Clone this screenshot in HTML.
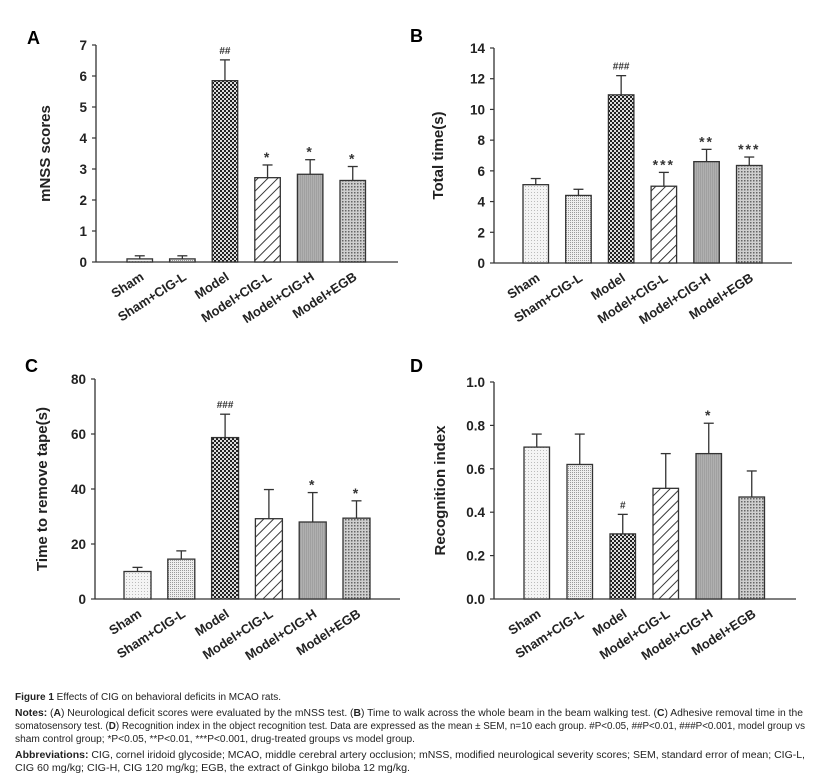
<!DOCTYPE html>
<html><head><meta charset="utf-8"><style>
body{margin:0;background:#fff}
svg{display:block;font-family:"Liberation Sans",Arial,sans-serif}
</style></head><body>
<svg id="fig" width="817" height="783" viewBox="0 0 817 783" xmlns="http://www.w3.org/2000/svg">
<defs>
<pattern id="pSham" width="3" height="3" patternUnits="userSpaceOnUse"><rect width="3" height="3" fill="#f4f4f4"/><rect width="1" height="1" fill="#bbb"/></pattern>
<pattern id="pShamL" width="2" height="2" patternUnits="userSpaceOnUse"><rect width="2" height="2" fill="#eee"/><rect width="1" height="1" fill="#999"/></pattern>
<pattern id="pModel" width="4" height="4" patternUnits="userSpaceOnUse"><rect width="4" height="4" fill="#222"/><rect width="2" height="2" fill="#ddd"/><rect x="2" y="2" width="2" height="2" fill="#ddd"/></pattern>
<pattern id="pCigL" width="7" height="7" patternUnits="userSpaceOnUse" patternTransform="rotate(45)"><rect width="7" height="7" fill="#fff"/><line x1="0" y1="0" x2="0" y2="7" stroke="#222" stroke-width="1.8"/></pattern>
<pattern id="pCigH" width="2" height="2" patternUnits="userSpaceOnUse"><rect width="2" height="2" fill="#b0b0b0"/><rect width="1" height="2" fill="#a0a0a0"/></pattern>
<pattern id="pEgb" width="3" height="3" patternUnits="userSpaceOnUse"><rect width="3" height="3" fill="#cfcfcf"/><rect width="1.5" height="1.5" fill="#666"/></pattern>
</defs>
<g id="charts"></g>
<g font-size="10" fill="#222">
<text x="15" y="700"><tspan font-weight="bold">Figure 1</tspan> Effects of CIG on behavioral deficits in MCAO rats.</text>
<text x="15" y="716" textLength="788" lengthAdjust="spacingAndGlyphs"><tspan font-weight="bold">Notes:</tspan> (<tspan font-weight="bold">A</tspan>) Neurological deficit scores were evaluated by the mNSS test. (<tspan font-weight="bold">B</tspan>) Time to walk across the whole beam in the beam walking test. (<tspan font-weight="bold">C</tspan>) Adhesive removal time in the</text>
<text x="15" y="729" textLength="790" lengthAdjust="spacingAndGlyphs">somatosensory test. (<tspan font-weight="bold">D</tspan>) Recognition index in the object recognition test. Data are expressed as the mean ± SEM, n=10 each group. #P&lt;0.05, ##P&lt;0.01, ###P&lt;0.001, model group vs</text>
<text x="15" y="742" textLength="400" lengthAdjust="spacingAndGlyphs">sham control group; *P&lt;0.05, **P&lt;0.01, ***P&lt;0.001, drug-treated groups vs model group.</text>
<text x="15" y="758" textLength="790" lengthAdjust="spacingAndGlyphs"><tspan font-weight="bold">Abbreviations:</tspan> CIG, cornel iridoid glycoside; MCAO, middle cerebral artery occlusion; mNSS, modified neurological severity scores; SEM, standard error of mean; CIG-L,</text>
<text x="15" y="771" textLength="395" lengthAdjust="spacingAndGlyphs">CIG 60 mg/kg; CIG-H, CIG 120 mg/kg; EGB, the extract of Ginkgo biloba 12 mg/kg.</text>
</g>
</svg>
<script>
const categories = ["Sham","Sham+CIG-L","Model","Model+CIG-L","Model+CIG-H","Model+EGB"];
const valuesA = [0.1,0.1,5.85,2.72,2.83,2.63];
const errTopA = [0.2,0.2,6.52,3.13,3.3,3.08];
const marksA = ["","","##","*","*","*"];
const ticksA = [0,1,2,3,4,5,6,7];
const valuesB = [5.1,4.4,10.95,5.0,6.6,6.35];
const errTopB = [5.5,4.8,12.2,5.9,7.4,6.9];
const marksB = ["","","###","***","**","***"];
const ticksB = [0,2,4,6,8,10,12,14];
const valuesC = [10,14.5,58.7,29.2,28,29.4];
const errTopC = [11.5,17.5,67.2,39.8,38.7,35.7];
const marksC = ["","","###","","*","*"];
const ticksC = [0,20,40,60,80];
const valuesD = [0.70,0.62,0.30,0.51,0.67,0.47];
const errTopD = [0.76,0.76,0.39,0.67,0.81,0.59];
const marksD = ["","","#","","*",""];
const ticksD = ["0.0","0.2","0.4","0.6","0.8","1.0"];

const fills = ["url(#pSham)","url(#pShamL)","url(#pModel)","url(#pCigL)","url(#pCigH)","url(#pEgb)"];
const NS = "http://www.w3.org/2000/svg";
const root = document.getElementById("charts");
function mk(tag, attrs, parent){const e=document.createElementNS(NS,tag);for(const k in attrs)e.setAttribute(k,attrs[k]);(parent||root).appendChild(e);return e;}

function panel(id, letter, lx, ly, ax, y0, yTop, xEnd, firstBar, step, bw, ticks, vals, errs, marks, title, titleX){
  const g = mk("g",{});
  
  
  const tNums = ticks.map(Number);
  const maxV = tNums[tNums.length-1];
  const y = v => y0 - (v/maxV)*(y0-yTop);
  const xb = i => firstBar + i*step;
  const L = mk("text",{x:lx,y:ly,"font-size":18,"font-weight":"bold"},g); L.textContent=letter;
  
  
  const ya = mk("line",{x1:ax,y1:y0,x2:ax,y2:yTop,stroke:"#333","stroke-width":1.3},g);
  
  
  const xa = mk("line",{x1:ax,y1:y0,x2:xEnd,y2:y0,stroke:"#333","stroke-width":1.3},g);
  
  
  ticks.forEach((t,i)=>{
    const yy=y(tNums[i]);
    mk("line",{x1:ax-4,y1:yy,x2:ax,y2:yy,stroke:"#333","stroke-width":1.2},g);
    const tl=mk("text",{x:ax-9,y:yy+5,"font-size":13.5,"font-weight":"bold","text-anchor":"end",fill:"#222"},g);
    tl.textContent=t;
    
    
  });
  const yt=mk("text",{x:titleX,y:(y0+yTop)/2,"font-size":15,"font-weight":"bold","text-anchor":"middle",transform:`rotate(-90 ${titleX} ${(y0+yTop)/2})`,fill:"#222"},g);
  yt.textContent=title;
  
  
  vals.forEach((v,i)=>{
    const x=xb(i), cx=x+bw/2, top=y(v), et=y(errs[i]);
    const el=mk("line",{x1:cx,y1:top,x2:cx,y2:et,stroke:"#333","stroke-width":1.3},g);
    
    
    mk("line",{x1:cx-5,y1:et,x2:cx+5,y2:et,stroke:"#333","stroke-width":1.3},g);
    const r=mk("rect",{x:x,y:top,width:bw,height:y0-top,fill:fills[i],stroke:"#333","stroke-width":1.3},g);
    
    
    if(marks[i]){
      const m=mk("text",{x:cx,y:et-6,"font-size":marks[i].includes("#")?10:14,"font-weight":"bold","text-anchor":"middle",fill:"#333","letter-spacing":marks[i].includes("*")?2:0},g);
      if(marks[i].includes("*")) m.setAttribute("y", et-3);
      m.textContent=marks[i];
      
      
    }
    const lab=mk("text",{x:cx+5,y:y0+17,"font-size":13,"font-weight":"bold","text-anchor":"end",transform:`rotate(-33 ${cx+5} ${y0+17})`,fill:"#222"},g);
    lab.textContent=categories[i];
    
    
  });
}
panel("a","A",27,44,96,262,45,398,127,42.6,25.5,ticksA.map(String),valuesA,errTopA,marksA,"mNSS scores",50);
panel("b","B",410,42,494,263,48,792,523,42.7,25.5,ticksB.map(String),valuesB,errTopB,marksB,"Total time(s)",443);
panel("c","C",25,372,95,599,379,400,124,43.8,27,ticksC.map(String),valuesC,errTopC,marksC,"Time to remove tape(s)",47);
panel("d","D",410,372,494,599,382,796,524,43,25.5,ticksD,valuesD,errTopD,marksD,"Recognition index",445);
</script>
</body></html>
